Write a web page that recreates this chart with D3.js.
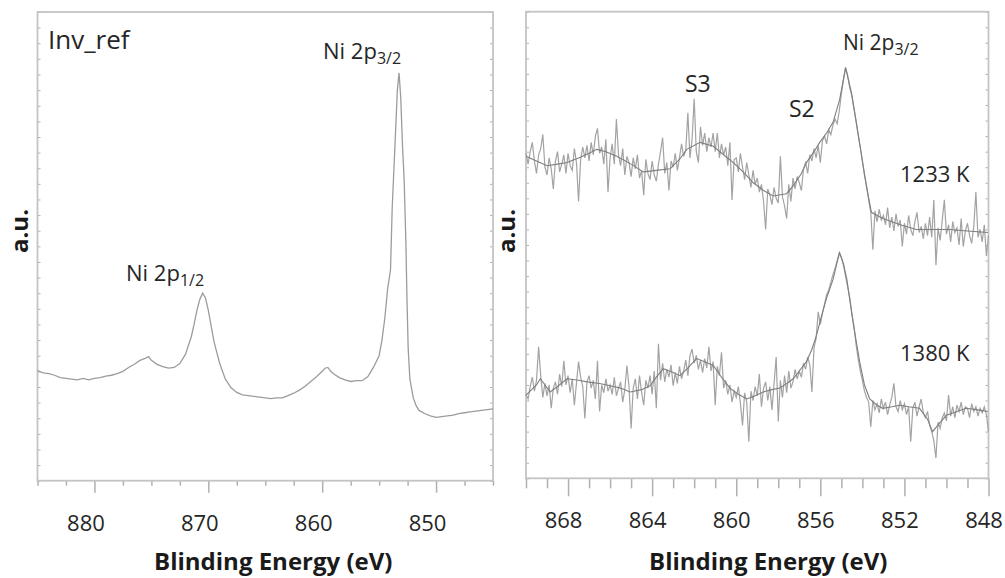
<!DOCTYPE html>
<html><head><meta charset="utf-8">
<script src="https://cdn.jsdelivr.net/npm/d3@7"></script>
<style>
html,body{margin:0;padding:0;background:#fff;}
svg{display:block;font-family:"Open Sans",sans-serif;}
</style></head>
<body>
<svg id="chart" width="1005" height="578"></svg>
<script>
// ---------- DATA ----------
// Left panel: Inv_ref spectrum (binding energy in eV, intensity in a.u.)
const leftEnergy = [885,884.5,884,883.5,883,882.5,882,881.5,881,880.5,880,879.5,879,878.5,878,877.5,877,876.5,876,875.5,875.25,875,874.5,874,873.5,873,872.5,872,871.5,871.25,871,870.75,870.5,870.25,870,869.75,869.5,869.25,869,868.5,868,867.5,867,866.5,866,865.5,865,864.5,864,863.5,863,862.5,862,861.5,861,860.5,860,859.75,859.5,859.25,859,858.5,858,857.5,857,856.5,856,855.5,855,854.75,854.5,854.25,854,853.85,853.6,853.4,853.25,853.1,852.95,852.8,852.65,852.55,852.45,852.3,852,851.75,851.5,851,850.5,850,849.5,849,848.5,848,847.5,847,846.5,846,845.5,845];
const leftIntensity = [7.05,6.9,6.85,6.75,6.6,6.55,6.5,6.45,6.55,6.45,6.55,6.6,6.7,6.75,6.85,7.0,7.25,7.45,7.7,7.85,7.95,7.7,7.45,7.3,7.2,7.25,7.5,8.1,9.2,10.0,10.9,11.6,12.0,11.7,10.9,9.9,8.9,8.2,7.5,6.5,5.95,5.65,5.5,5.45,5.4,5.35,5.3,5.25,5.3,5.3,5.45,5.6,5.8,6.05,6.35,6.65,7.0,7.2,7.25,7.0,6.85,6.6,6.45,6.35,6.4,6.4,6.65,7.25,8.0,9.0,10.4,12.3,13.5,17.5,21.6,25.0,26.1,24.5,21.5,19.2,15.2,11.5,8.5,6.5,5.3,4.8,4.5,4.3,4.15,4.05,4.1,4.15,4.2,4.3,4.35,4.4,4.45,4.5,4.55,4.6];

// Right panel: raw spectra sampled every 0.1 eV from 870.0 down to 848.0
const rawStart = 870.0, rawStep = 0.1;
const raw1233 = [
20.9,20.2,21.0,21.6,20.4,19.6,20.8,21.2,22.1,20.0,
19.5,20.6,19.9,18.6,20.4,21.0,19.7,20.2,20.8,19.6,
20.9,20.1,19.8,21.2,20.3,17.8,20.5,21.3,20.6,21.4,
20.4,21.6,20.8,22.0,22.5,20.9,21.3,20.2,21.8,18.4,
20.6,21.5,20.2,23.1,20.8,20.1,21.2,19.5,20.7,20.3,
19.4,20.6,19.9,20.8,19.3,19.8,18.2,20.5,19.6,19.2,
20.4,19.5,19.1,20.2,21.0,21.9,19.6,20.3,18.5,20.4,
20.0,20.9,19.8,20.6,21.5,20.7,21.1,23.5,20.6,21.8,
24.4,21.0,20.3,22.6,21.4,22.2,21.0,21.9,21.3,22.2,
21.0,22.2,20.6,21.5,20.8,21.3,20.1,21.6,17.9,20.5,
20.6,19.7,20.9,20.0,19.2,20.3,19.5,18.7,19.8,18.9,
19.3,18.4,18.9,17.8,16.0,18.6,18.2,17.6,18.7,18.0,
17.7,20.7,18.1,17.5,16.7,18.9,17.8,19.3,18.6,19.4,
19.0,18.5,19.9,20.3,19.6,20.8,20.4,21.2,20.6,21.4,
20.3,21.7,22.0,21.5,22.4,22.1,22.7,23.1,22.8,23.6,
24.7,25.6,26.4,25.9,25.1,24.6,23.8,23.0,22.1,21.3,
20.4,19.5,18.8,17.9,17.1,14.7,17.2,16.5,17.3,16.6,
16.9,16.3,17.4,16.1,16.8,15.9,17.0,16.2,16.6,14.9,
16.4,15.7,16.9,16.0,15.6,16.5,17.1,15.8,16.2,15.4,
16.4,15.6,16.8,15.5,17.9,13.7,16.1,15.3,16.6,17.9,
15.7,16.3,15.2,16.5,15.8,16.1,15.0,16.7,14.9,15.9,
16.4,15.6,15.1,16.2,18.4,15.5,16.0,15.2,16.3,14.3,
15.6];
const raw1380 = [
5.4,5.1,5.9,6.5,5.6,6.3,8.45,6.6,5.2,6.1,
5.3,6.0,4.5,5.8,6.2,5.4,6.7,5.9,7.55,6.0,
6.6,5.5,6.4,4.7,6.1,7.5,6.5,5.9,3.85,6.2,
6.6,5.8,6.3,5.1,7.55,4.3,6.0,5.5,6.4,5.6,
6.0,5.4,6.5,5.3,5.8,6.2,4.9,5.7,7.25,5.9,
3.2,5.8,6.4,5.1,6.6,5.5,4.7,6.3,5.8,6.6,
5.4,6.9,4.5,8.65,6.3,7.4,6.2,7.0,6.5,7.3,
5.95,6.8,6.1,7.2,6.4,6.9,7.6,6.6,7.9,8.3,
7.4,7.9,7.0,7.6,6.8,7.7,7.1,8.45,6.9,7.5,
4.7,7.2,6.6,8.1,5.8,6.3,5.4,6.0,4.9,5.6,
5.2,5.9,4.8,3.4,5.5,4.9,2.35,5.6,5.0,5.9,
5.3,6.7,4.6,5.8,6.2,5.0,5.9,4.4,6.1,7.8,
3.65,6.3,5.2,6.6,5.5,6.9,5.8,6.2,7.0,6.4,
6.9,6.5,7.4,7.0,7.8,7.3,5.55,8.4,9.0,10.7,
9.9,10.6,11.2,11.8,12.1,12.6,13.1,13.5,14.0,14.5,
14.2,13.7,13.0,12.3,11.6,10.6,9.8,8.6,7.7,6.9,
6.3,5.6,5.2,4.9,3.3,5.0,4.4,4.8,4.2,5.1,
4.5,4.9,4.1,4.7,5.2,6.1,4.6,4.3,5.0,4.4,
4.8,4.1,4.6,2.35,4.5,4.9,4.0,4.6,5.1,4.2,
3.9,4.3,3.4,3.0,2.4,1.3,3.6,3.2,3.9,4.2,
3.7,5.35,4.0,4.6,3.9,4.7,4.3,4.9,4.1,4.6,
4.5,3.9,4.8,4.3,4.6,4.0,4.5,4.2,4.6,4.1,
3.0];

// Right panel: smoothed traces
const smooth1233Energy = [870,869.5,869,868.5,868.05,867.5,867,866.63,866.2,865.68,865.0,864.42,863.8,863.15,862.7,862.35,861.72,861.09,860.6,860.14,859.6,859.19,858.7,858.24,857.61,857.29,856.9,856.66,856.3,856.03,855.7,855.39,855.08,854.8,854.52,854.21,853.81,853.57,853.3,853.02,852.2,851.43,850.6,849.85,849.0,848.03];
const smooth1233 = [20.7,20.4,20.1,20.2,20.3,20.6,20.9,21.15,21.0,20.7,20.2,19.7,19.8,19.9,20.5,21.15,21.6,21.35,20.8,20.3,19.6,19.0,18.5,18.15,18.3,18.8,19.6,20.3,21.0,21.6,22.2,22.9,24.35,26.4,24.8,22.2,18.8,17.1,16.9,16.7,16.3,16.0,16.0,16.0,15.9,15.8];
const smooth1380Energy = [870,869.5,869.32,868.85,868.5,868.05,867.5,867.1,866.5,866,865.5,865.05,864.5,864.1,863.8,863.47,863,862.67,862.3,861.88,861.5,861.09,860.7,860.3,859.9,859.5,859.1,858.72,858.3,857.93,857.6,857.29,857,856.66,856.4,856.18,855.95,855.71,855.39,855.2,855.08,854.9,854.74,854.6,854.44,854.13,853.9,853.65,853.3,853.03,852.6,852.23,851.8,851.28,850.9,850.66,850.3,850,849.5,849.06,848.5,848.03];
const smooth1380 = [5.35,6.0,6.4,5.55,5.9,6.4,6.3,6.2,6.1,5.95,5.8,5.55,5.7,5.95,6.5,7.05,6.8,6.6,7.1,7.7,7.5,7.25,6.5,5.8,5.4,5.1,5.3,5.55,5.7,5.8,6.1,6.4,6.9,7.5,8.3,9.2,10.4,11.55,12.8,13.9,14.5,13.8,12.8,11.5,10.0,7.5,6.0,5.1,4.7,4.5,4.6,4.7,4.6,4.5,3.8,3.0,3.6,4.05,4.3,4.5,4.4,4.3];

// Tick values / labels
const leftMajorTicks = [880,870,860,850];
const leftMinorTicks = [885,882.5,877.5,875,872.5,867.5,865,862.5,857.5,855,852.5,847.5,845];
const rightMajorTicks = [868,864,860,856,852,848];
const rightMinorTicks = [870,869,867,866,865,863,862,861,859,858,857,855,854,853,851,850,849];
const yTicks = d3.range(0, 31, 1);
const xTitle = "Blinding Energy (eV)";
const yTitle = "a.u.";

// ---------- DRAW ----------
const svg = d3.select("#chart");
const frameColor = "#c4c4c4", tickColor = "#b0b0b0", textColor = "#262626";

function panel(cfg) {
  const x = d3.scaleLinear().domain(cfg.xDomain).range([cfg.x0, cfg.x1]);
  const y = d3.scaleLinear().domain([0, 30]).range([cfg.y1, cfg.y0]);
  const g = svg.append("g");

  // y ticks (inward, both sides)
  g.append("g").attr("transform", `translate(${cfg.x0},0)`)
    .call(d3.axisLeft(y).tickValues(yTicks).tickSize(-3).tickFormat(""))
    .call(a => { a.select(".domain").remove(); a.selectAll("line").attr("stroke", tickColor); });
  g.append("g").attr("transform", `translate(${cfg.x1},0)`)
    .call(d3.axisRight(y).tickValues(yTicks).tickSize(-3).tickFormat(""))
    .call(a => { a.select(".domain").remove(); a.selectAll("line").attr("stroke", tickColor); });

  // x ticks
  g.append("g").attr("transform", `translate(0,${cfg.y1})`)
    .call(d3.axisBottom(x).tickValues(cfg.minor).tickSize(cfg.minorLen).tickFormat(""))
    .call(a => { a.select(".domain").remove(); a.selectAll("line").attr("stroke", tickColor).attr("stroke-width", 1.5); });
  g.append("g").attr("transform", `translate(0,${cfg.y1})`)
    .call(d3.axisBottom(x).tickValues(cfg.major).tickSize(cfg.majorLen).tickFormat(d3.format("d")))
    .call(a => {
      a.select(".domain").remove();
      a.selectAll("line").attr("stroke", tickColor).attr("stroke-width", 1.5);
      a.selectAll("text").attr("y", cfg.labelBase - cfg.y1).attr("dy", 0).attr("dx", cfg.labelDx)
        .attr("fill", textColor).style("font-size", "22px").style("font-family", "'Open Sans',sans-serif");
    });

  // frame
  g.append("rect").attr("x", cfg.x0).attr("y", cfg.y0)
    .attr("width", cfg.x1 - cfg.x0).attr("height", cfg.y1 - cfg.y0)
    .attr("fill", "none").attr("stroke", frameColor).attr("stroke-width", 1.8);

  // titles
  g.append("text").attr("x", (cfg.x0 + cfg.x1) / 2 + cfg.titleDx).attr("y", 570)
    .attr("text-anchor", "middle").attr("font-weight", "bold").attr("font-size", 24)
    .attr("fill", "#1a1a1a").text(xTitle);
  g.append("text").attr("transform", `translate(${cfg.yTitleX},231) rotate(-90)`)
    .attr("text-anchor", "middle").attr("font-weight", "bold").attr("font-size", 24)
    .attr("fill", "#1a1a1a").text(yTitle);
  return { x, y, g };
}

function label(g, px, py, main, sub, size) {
  const t = g.append("text").attr("x", px).attr("y", py).attr("fill", textColor)
    .attr("font-size", size);
  t.append("tspan").text(main);
  if (sub) t.append("tspan").attr("font-size", 16).attr("dy", 5).text(sub);
}

// Left panel
const L = panel({ xDomain: [885, 845], x0: 37.5, x1: 493, y0: 12, y1: 480.7,
  major: leftMajorTicks, minor: leftMinorTicks, minorLen: 5, majorLen: 12,
  labelBase: 531, labelDx: -9, titleDx: 8, yTitleX: 28 });
const leftData = leftEnergy.map((e, i) => [e, leftIntensity[i]]);
L.g.append("path").datum(leftData)
  .attr("fill", "none").attr("stroke", "#9c9c9c").attr("stroke-width", 1.3)
  .attr("d", d3.line().x(d => L.x(d[0])).y(d => L.y(d[1])));
label(L.g, 48, 49, "Inv_ref", null, 26);
label(L.g, 323, 59, "Ni 2p", "3/2", 22);
label(L.g, 126, 281, "Ni 2p", "1/2", 22);

// Right panel
const R = panel({ xDomain: [870, 848], x0: 526, x1: 988.5, y0: 11.7, y1: 478.3,
  major: rightMajorTicks, minor: rightMinorTicks, minorLen: 10, majorLen: 18,
  labelBase: 528.3, labelDx: -5, titleDx: 11, yTitleX: 515 });
const rawLine = d3.line().x(d => R.x(d[0])).y(d => R.y(d[1]));
[raw1233, raw1380].forEach(arr => {
  const data = arr.map((v, i) => [rawStart - i * rawStep, v]);
  R.g.append("path").datum(data).attr("fill", "none")
    .attr("stroke", "#a3a3a3").attr("stroke-width", 1.2).attr("d", rawLine);
});
[[smooth1233Energy, smooth1233], [smooth1380Energy, smooth1380]].forEach(([en, v]) => {
  const data = en.map((e, i) => [e, v[i]]);
  R.g.append("path").datum(data).attr("fill", "none")
    .attr("stroke", "#7e7e7e").attr("stroke-width", 1.1).attr("d", rawLine);
});
label(R.g, 685, 92, "S3", null, 23);
label(R.g, 789, 117, "S2", null, 23);
label(R.g, 843, 50, "Ni 2p", "3/2", 21);
label(R.g, 900, 182, "1233 K", null, 22);
label(R.g, 900, 361, "1380 K", null, 22);
</script>
</body></html>
